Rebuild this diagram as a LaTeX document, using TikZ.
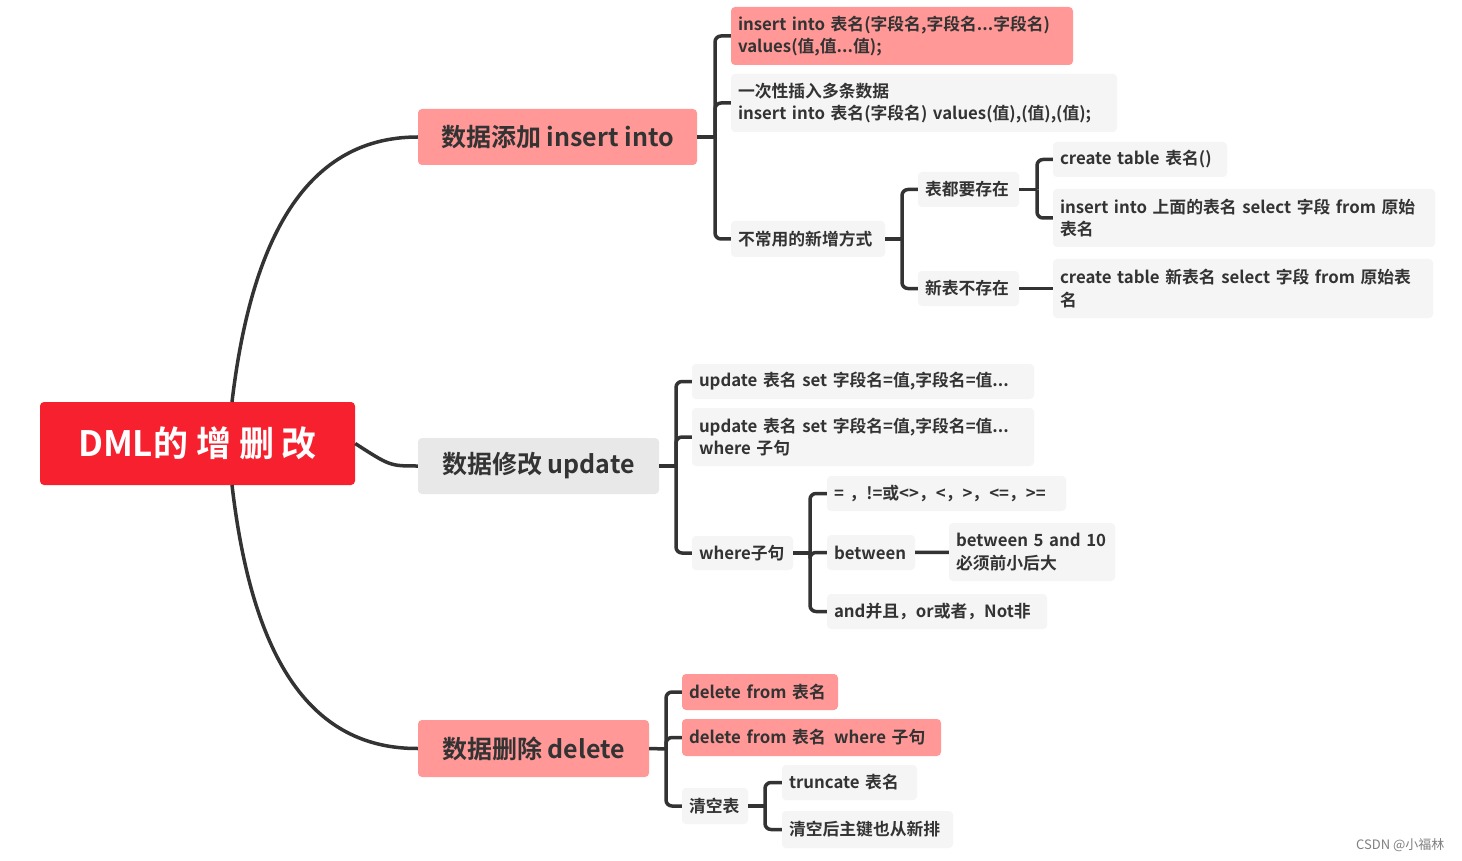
\documentclass[tikz,border=0pt]{standalone}
\usepackage{fontspec}
\setmainfont{Noto Sans CJK SC}[BoldFont={Noto Sans CJK SC Bold}]
\definecolor{pinkf}{HTML}{FF9896}
\definecolor{grayf}{HTML}{F5F5F5}
\definecolor{midg}{HTML}{E8E8E8}
\definecolor{rootf}{HTML}{F7202E}
\definecolor{ln}{HTML}{333333}
\newcommand{\bx}[8]{%
 \pgfmathsetmacro{\bw}{#4-#2-14}\pgfmathsetmacro{\bh}{#5-#3}%
 \node[box,fill=#6,text width=\bw pt,minimum height=\bh pt,font=#7] (#1) at ({(#2+#4)/2},{(#3+#5)/2}) {#8};}
\tikzset{box/.style={rounded corners=4pt,inner xsep=7pt,inner ysep=0pt,align=left,text=ln},
 con/.style={draw=ln,line width=3.5pt},
 br/.style={draw=ln,line width=3.5pt,rounded corners=6pt}}
\begin{document}
\begin{tikzpicture}[x=1pt,y=-1pt]
\useasboundingbox[fill=white] (0,0) rectangle (1462,861);
\def\sm{\fontsize{16.8}{22.5}\selectfont\bfseries}
\def\md{\fontsize{25}{28}\selectfont\bfseries}
\node[rounded corners=4pt,fill=rootf,minimum width=315pt,minimum height=83pt,text=white,font=\fontsize{35}{38}\selectfont\bfseries] (r) at (197.5,443.5) {DML的 增 删 改};
\node[box,fill=pinkf,minimum width=279pt,minimum height=56pt,font=\md] (A) at (557.5,137) {数据添加 insert into};
\node[box,fill=midg,minimum width=241pt,minimum height=56pt,font=\md] (B) at (538.5,466) {数据修改 update};
\node[box,fill=pinkf,minimum width=231pt,minimum height=57pt,font=\md] (C) at (533.5,748.5) {数据删除 delete};
\bx{a1}{731}{7}{1073}{65}{pinkf}{\sm}{insert into 表名(字段名,字段名...字段名)\\values(值,值...值);}
\bx{a2}{731}{74}{1117}{132}{grayf}{\sm}{一次性插入多条数据\\insert into 表名(字段名) values(值),(值),(值);}
\bx{a3}{731}{221}{885}{257}{grayf}{\sm}{不常用的新增方式}
\bx{a31}{918}{172}{1019}{207}{grayf}{\sm}{表都要存在}
\bx{a311}{1053}{142}{1227}{177}{grayf}{\sm}{create table 表名()}
\bx{a312}{1053}{189}{1435}{247}{grayf}{\sm}{insert into 上面的表名 select 字段 from 原始\\表名}
\bx{a32}{918}{271}{1019}{306}{grayf}{\sm}{新表不存在}
\bx{a321}{1053}{259}{1433}{318}{grayf}{\sm}{create table 新表名 select 字段 from 原始表\\名}
\bx{b1}{692}{364}{1034}{399}{grayf}{\sm}{update 表名 set 字段名=值,字段名=值...}
\bx{b2}{692}{408}{1034}{466}{grayf}{\sm}{update 表名 set 字段名=值,字段名=值...\\where 子句}
\bx{b3}{692}{536}{793}{570}{grayf}{\sm}{where子句}
\bx{b31}{827}{476}{1066}{511}{grayf}{\sm}{= ，!=或<>，<，>，<=，>=}
\bx{b32}{827}{535}{915}{570}{grayf}{\sm}{between}
\bx{b321}{949}{523}{1115}{581}{grayf}{\sm}{between 5 and 10\\必须前小后大}
\bx{b33}{827}{594}{1047}{629}{grayf}{\sm}{and并且，or或者，Not非}
\bx{c1}{682}{674}{838}{710}{pinkf}{\sm}{delete from 表名}
\bx{c2}{682}{719}{941}{756}{pinkf}{\sm}{delete from 表名\enspace where 子句}
\bx{c3}{682}{788}{748}{824}{grayf}{\sm}{清空表}
\bx{c31}{782}{765}{917}{800}{grayf}{\sm}{truncate 表名}
\bx{c32}{782}{811}{953}{848}{grayf}{\sm}{清空后主键也从新排}
\node[text=gray,font=\fontsize{13}{15}\selectfont,anchor=east] (wm) at (1448,845) {CSDN @小福林};
% root connectors
\draw[con] (232,402) .. controls (250,250) and (300,137) .. (A.west);
\draw[con] (r.east) .. controls (390,466) .. (B.west);
\draw[con] (232,485) .. controls (250,640) and (300,749) .. (C.west);
% brackets
\draw[con] (A.east) -- (715,137);
\foreach \c in {a1,a2,a3} \draw[br] (715,137) |- (\c.west);
\draw[con] (a3.east) -- (902,239);
\foreach \c in {a31,a32} \draw[br] (902,239) |- (\c.west);
\draw[con] (a31.east) -- (1037,189.5);
\foreach \c in {a311,a312} \draw[br] (1037,189.5) |- (\c.west);
\draw[con] (a32) -- (a321);
\draw[con] (B.east) -- (676,466);
\foreach \c in {b1,b2,b3} \draw[br] (676,466) |- (\c.west);
\draw[con] (b3.east) -- (810,553);
\foreach \c in {b31,b32,b33} \draw[br] (810,553) |- (\c.west);
\draw[con] (b32) -- (b321);
\draw[con] (C.east) -- (666,749);
\foreach \c in {c1,c2,c3} \draw[br] (666,749) |- (\c.west);
\draw[con] (c3.east) -- (765,806);
\foreach \c in {c31,c32} \draw[br] (765,806) |- (\c.west);
\end{tikzpicture}
\end{document}
